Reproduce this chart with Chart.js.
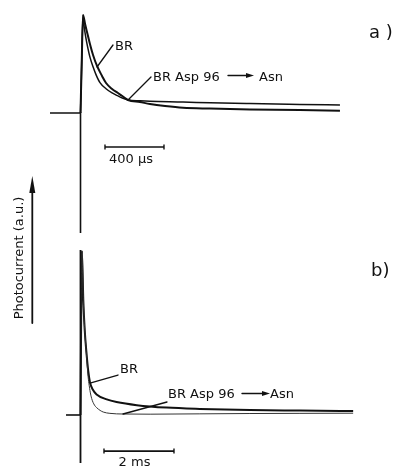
<!DOCTYPE html>
<html><head><meta charset="utf-8">
<script src="https://cdn.jsdelivr.net/npm/chart.js@4/dist/chart.umd.min.js"></script>
<style>html,body{margin:0;padding:0;background:#fff;overflow:hidden}#wrap{position:relative;width:394px;height:467px}</style>
</head><body><div id="wrap"><canvas id="c" width="394" height="467"></canvas></div>
<script>
// ---- Panel a (time in µs, photocurrent in a.u.) ----
const timeBR_a  = [0, 8, 17, 31, 44, 64, 85, 112, 146, 173, 214, 254, 288, 322, 403, 471, 573, 695, 878, 1149, 1488, 1759];
const valBR_a   = [0, 0.5, 1.0, 0.908, 0.827, 0.704, 0.592, 0.480, 0.378, 0.306, 0.245, 0.204, 0.168, 0.133, 0.112, 0.092, 0.071, 0.053, 0.045, 0.037, 0.031, 0.023];
const timeAsn_a = [0, 8, 17, 24, 37, 51, 64, 85, 105, 132, 173, 214, 254, 288, 322, 403, 471, 695, 878, 1149, 1488, 1759];
const valAsn_a  = [0, 0.5, 1.0, 0.890, 0.762, 0.655, 0.570, 0.472, 0.392, 0.310, 0.248, 0.205, 0.174, 0.150, 0.133, 0.124, 0.119, 0.112, 0.104, 0.096, 0.088, 0.082];
// ---- Panel b (time in ms) ----
const timeBR_b  = [0, 0.04, 0.08, 0.12, 0.17, 0.22, 0.27, 0.35, 0.46, 0.75, 1.03, 1.61, 2.46, 3.41, 4.84, 6.27, 7.79];
const valBR_b   = [0, 1.0, 0.70, 0.52, 0.38, 0.27, 0.20, 0.155, 0.125, 0.095, 0.079, 0.060, 0.045, 0.037, 0.030, 0.027, 0.024];
const timeAsn_b = [0, 0.04, 0.08, 0.12, 0.17, 0.21, 0.27, 0.32, 0.40, 0.46, 0.56, 0.65, 0.84, 1.21, 1.99, 3.41, 4.84, 6.27, 7.79];
const valAsn_b  = [0, 1.0, 0.70, 0.52, 0.37, 0.25, 0.15, 0.10, 0.06, 0.045, 0.028, 0.018, 0.010, 0.006, 0.005, 0.007, 0.009, 0.010, 0.011];
// ---- trace baseline / trigger lines ----
const baseA_t = [-207, 0, 0];
const baseA_v = [0, 0, -1.224];
const baseB_t = [-0.414, 0];
const baseB_v = [0, 0];
const trigB_t = [0, 0];
const trigB_v = [1.006, -0.293];
// ---- scale bars ----
const barA_t = [166, 566];   // 400 µs
const barA_v = [-0.347, -0.347];
const barB_t = [0.671, 2.671]; // 2 ms
const barB_v = [-0.22, -0.22];
// ---- text ----
const labelBR = 'BR';
const labelMut = 'BR Asp 96';
const labelAsn = 'Asn';
const barLabelA = '400 µs';
const barLabelB = '2 ms';
const yTitle = 'Photocurrent (a.u.)';
const panelA = 'a )';
const panelB = 'b)';

const pts = (t, v) => t.map((x, i) => ({x: x, y: v[i]}));
const INK = '#111';
const FONT = '"DejaVu Sans", "Liberation Sans", Arial, sans-serif';

function curve(t, v, xa, ya, w, col) {
  return {data: pts(t, v), xAxisID: xa, yAxisID: ya, borderColor: col || INK, borderWidth: w,
          pointRadius: 0, cubicInterpolationMode: 'monotone', fill: false};
}
function straight(t, v, xa, ya, w) {
  return {data: pts(t, v), xAxisID: xa, yAxisID: ya, borderColor: INK, borderWidth: w,
          pointRadius: 0, tension: 0, fill: false};
}
function bar(t, v, xa, ya) {
  return {data: pts(t, v), xAxisID: xa, yAxisID: ya, borderColor: INK, borderWidth: 1.6,
          tension: 0, pointStyle: 'line', rotation: 90, pointRadius: 2.5,
          pointBorderWidth: 1.4, pointBorderColor: INK, fill: false};
}

const annot = {
  id: 'annot',
  afterDatasetsDraw(chart) {
    const c = chart.ctx;
    c.save();
    c.fillStyle = INK; c.strokeStyle = INK; c.lineCap = 'round';
    const line = (x1, y1, x2, y2, w) => { c.lineWidth = w; c.beginPath(); c.moveTo(x1, y1); c.lineTo(x2, y2); c.stroke(); };
    const arrowR = (x1, x2, y) => {
      line(x1, y, x2 - 5, y, 1.4);
      c.beginPath(); c.moveTo(x2, y); c.lineTo(x2 - 8, y - 2.6); c.lineTo(x2 - 8, y + 2.6); c.closePath(); c.fill();
    };
    c.font = '13px ' + FONT; c.textBaseline = 'alphabetic'; c.textAlign = 'left';
    // panel a labels
    c.fillText(labelBR, 115, 50);
    line(113, 45, 97, 67, 1.3);
    c.fillText(labelMut, 153, 81);
    arrowR(228, 254, 75.5);
    c.fillText(labelAsn, 259, 81);
    line(151, 77, 128, 100, 1.3);
    // panel b labels
    c.fillText(labelBR, 120, 373);
    line(118, 375, 90, 383, 1.3);
    c.fillText(labelMut, 168, 398);
    arrowR(242, 270, 393.5);
    c.fillText(labelAsn, 270, 398);
    line(167, 402, 123, 414, 1.3);
    // scale bar labels
    c.textAlign = 'center';
    c.fillText(barLabelA, 131, 163);
    c.fillText(barLabelB, 134.5, 466);
    // panel letters
    c.textAlign = 'left';
    c.font = '18px ' + FONT;
    c.fillText(panelA, 369, 38);
    c.fillText(panelB, 371, 276);
    // y title + arrow
    c.font = '13px ' + FONT;
    c.save();
    c.translate(19.5, 258); c.rotate(-Math.PI / 2);
    c.textAlign = 'center'; c.textBaseline = 'middle';
    c.fillText(yTitle, 0, 0);
    c.restore();
    line(32.3, 323, 32.3, 188, 1.8);
    c.beginPath(); c.moveTo(32.3, 176); c.lineTo(29.3, 193); c.lineTo(35.3, 193); c.closePath(); c.fill();
    c.restore();
  }
};

new Chart(document.getElementById('c'), {
  type: 'line',
  data: {datasets: [
    straight(baseA_t, baseA_v, 'xa', 'ya', 1.6),
    curve(timeAsn_a, valAsn_a, 'xa', 'ya', 1.5),
    curve(timeBR_a, valBR_a, 'xa', 'ya', 2.0),
    bar(barA_t, barA_v, 'xa', 'ya'),
    straight(baseB_t, baseB_v, 'xb', 'yb', 1.6),
    straight(trigB_t, trigB_v, 'xb', 'yb', 1.8),
    curve(timeAsn_b, valAsn_b, 'xb', 'yb', 1.0, '#333'),
    curve(timeBR_b, valBR_b, 'xb', 'yb', 2.0),
    bar(barB_t, barB_v, 'xb', 'yb')
  ]},
  options: {
    responsive: false, animation: false,
    layout: {padding: 0, autoPadding: false},
    plugins: {legend: {display: false}, tooltip: {enabled: false}},
    scales: {
      xa: {type: 'linear', display: false, min: -545.8, max: 2125.4},
      ya: {type: 'linear', display: false, min: -3.6122, max: 1.1531},
      xb: {type: 'linear', display: false, min: -2.3, max: 8.957},
      yb: {type: 'linear', display: false, min: -0.3171, max: 2.5305}
    }
  },
  plugins: [annot]
});
</script></body></html>
